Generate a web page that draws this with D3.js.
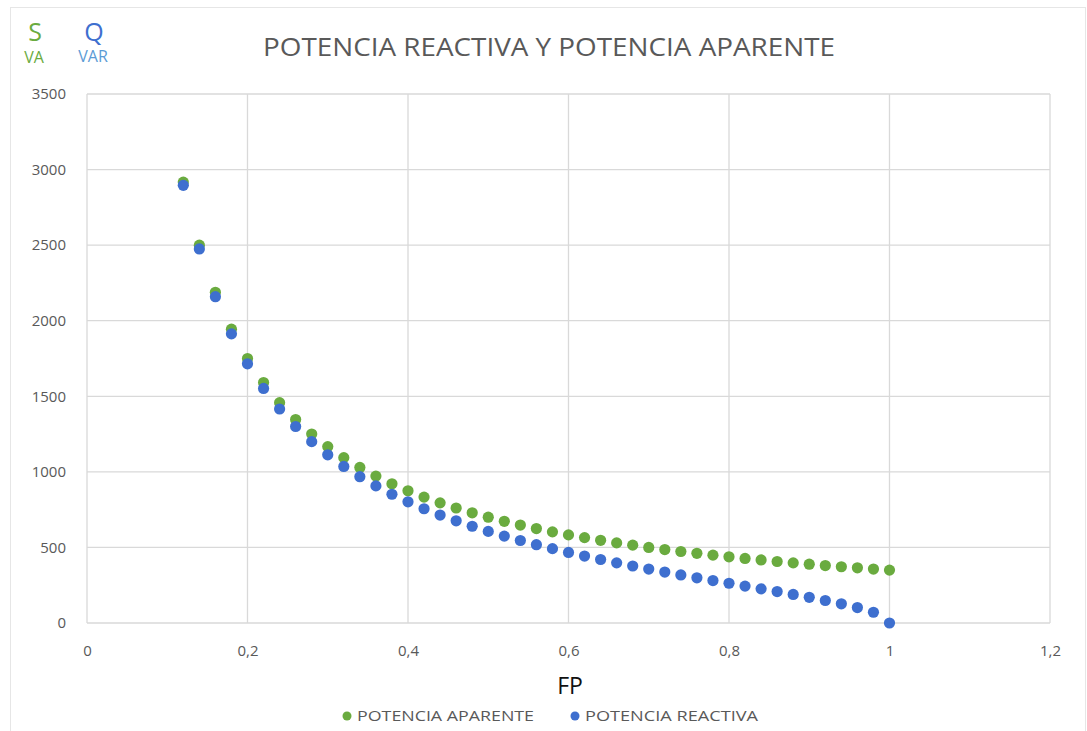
<!DOCTYPE html>
<html>
<head>
<meta charset="utf-8">
<script src="https://cdn.jsdelivr.net/npm/d3@7"></script>
<style>
  html, body { margin: 0; padding: 0; background: #fff; }
  svg { display: block; }
</style>
</head>
<body>
<svg id="chart" width="1087" height="731"></svg>
<script>
// Power factor (FP) values
const fp = [0.12,0.14,0.16,0.18,0.20,0.22,0.24,0.26,0.28,0.30,0.32,0.34,0.36,0.38,0.40,
            0.42,0.44,0.46,0.48,0.50,0.52,0.54,0.56,0.58,0.60,0.62,0.64,0.66,0.68,0.70,
            0.72,0.74,0.76,0.78,0.80,0.82,0.84,0.86,0.88,0.90,0.92,0.94,0.96,0.98,1.00];
// Apparent power S (VA)
const potenciaAparente = [2917,2500,2188,1944,1750,1591,1458,1346,1250,1167,1094,1029,972,921,875,
            833,795,761,729,700,673,648,625,603,583,565,547,530,515,500,
            486,473,461,449,438,427,417,407,398,389,380,372,365,357,350];
// Reactive power Q (VAR)
const potenciaReactiva = [2896,2475,2159,1913,1715,1552,1416,1300,1200,1113,1036,968,907,852,802,
            756,714,676,640,606,575,546,518,492,467,443,420,398,377,357,
            337,318,299,281,263,244,226,208,189,170,149,127,102,71,0];
const xTicks = [0,0.2,0.4,0.6,0.8,1,1.2];
const yTicks = [0,500,1000,1500,2000,2500,3000,3500];

const svg = d3.select("#chart");
const m = {left: 87, right: 1050, top: 94, bottom: 623};

const x = d3.scaleLinear().domain([0, 1.2]).range([m.left, m.right]);
const y = d3.scaleLinear().domain([0, 3500]).range([m.bottom, m.top]);

const fmt = d => d3.format("")(d).replace(".", ",");
const font = "'Open Sans', 'Noto Sans', sans-serif";

// chart frame
svg.append("rect").attr("x", 10.5).attr("y", 7.5).attr("width", 1075).attr("height", 740)
  .attr("fill", "#fff").attr("stroke", "#e6e6e6");

// gridlines
svg.append("g").selectAll("line").data(yTicks).join("line")
  .attr("x1", m.left).attr("x2", m.right)
  .attr("y1", d => y(d)).attr("y2", d => y(d))
  .attr("stroke", "#d9d9d9").attr("stroke-width", 1.3);
svg.append("g").selectAll("line").data(xTicks).join("line")
  .attr("x1", d => x(d)).attr("x2", d => x(d))
  .attr("y1", m.top).attr("y2", m.bottom)
  .attr("stroke", "#d9d9d9").attr("stroke-width", 1.3);

// axes (labels only)
const yAxis = svg.append("g").attr("transform", `translate(${m.left - 16},0)`)
  .call(d3.axisLeft(y).tickValues(yTicks).tickSize(0).tickPadding(5).tickFormat(d3.format("")));
const xAxis = svg.append("g").attr("transform", `translate(0,${m.bottom + 22})`)
  .call(d3.axisBottom(x).tickValues(xTicks).tickSize(0).tickPadding(0).tickFormat(fmt));
[yAxis, xAxis].forEach(a => {
  a.select(".domain").remove();
  a.selectAll("text").attr("fill", "#595959").attr("font-size", 15).attr("font-family", font);
});

// series
const series = [
  {name: "POTENCIA APARENTE", values: potenciaAparente, color: "#6aab3f"},
  {name: "POTENCIA REACTIVA", values: potenciaReactiva, color: "#3e6fcf"}
];
series.forEach(s => {
  svg.append("g").selectAll("circle").data(fp).join("circle")
    .attr("cx", d => x(d))
    .attr("cy", (d, i) => y(s.values[i]))
    .attr("r", 5.6)
    .attr("fill", s.color);
});

// title
svg.append("text").attr("x", 549).attr("y", 56).attr("text-anchor", "middle")
  .attr("font-family", font).attr("font-size", 26).attr("fill", "#595959")
  .attr("textLength", 572).attr("lengthAdjust", "spacingAndGlyphs")
  .text("POTENCIA REACTIVA Y POTENCIA APARENTE");

// unit labels
svg.append("text").attr("x", 35).attr("y", 41).attr("text-anchor", "middle")
  .attr("font-family", font).attr("font-size", 25).attr("fill", "#6aab3f").text("S");
svg.append("text").attr("x", 34).attr("y", 63).attr("text-anchor", "middle")
  .attr("font-family", font).attr("font-size", 16).attr("fill", "#6aab3f").text("VA");
svg.append("text").attr("x", 94).attr("y", 41).attr("text-anchor", "middle")
  .attr("font-family", font).attr("font-size", 25).attr("fill", "#3e6fcf").text("Q");
svg.append("text").attr("x", 93).attr("y", 62).attr("text-anchor", "middle")
  .attr("font-family", font).attr("font-size", 16).attr("fill", "#5b9bd5").text("VAR");

// x axis title
svg.append("text").attr("x", 570).attr("y", 694).attr("text-anchor", "middle")
  .attr("font-family", font).attr("font-size", 23).attr("fill", "#111").text("FP");

// legend
const legX = [347, 575];
series.forEach((s, i) => {
  svg.append("circle").attr("cx", legX[i]).attr("cy", 716).attr("r", 4.5).attr("fill", s.color);
  svg.append("text").attr("x", legX[i] + 10).attr("y", 721)
    .attr("font-family", font).attr("font-size", 14).attr("fill", "#595959")
    .attr("textLength", i === 0 ? 177 : 173).attr("lengthAdjust", "spacingAndGlyphs")
    .text(s.name);
});
</script>
</body>
</html>
